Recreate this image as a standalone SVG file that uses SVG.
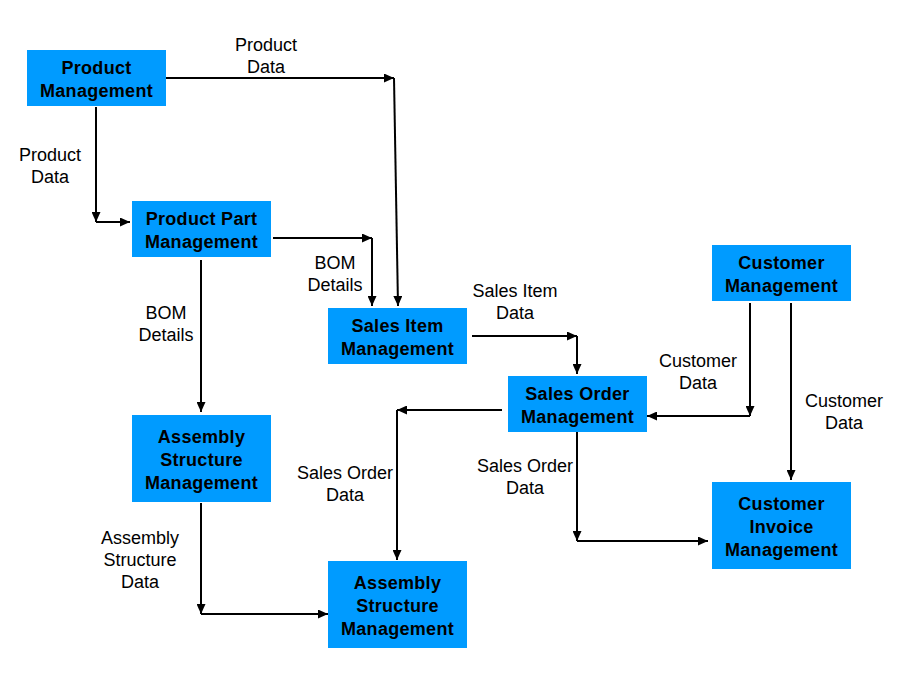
<svg xmlns="http://www.w3.org/2000/svg" width="915" height="681" viewBox="0 0 915 681">
<defs>
<style>
.box{fill:#009BFF;}
.nt{font-family:"Liberation Sans",Arial,sans-serif;font-size:18px;font-weight:bold;letter-spacing:0.3px;fill:#000;text-anchor:middle;}
.lb{font-family:"Liberation Sans",Arial,sans-serif;font-size:18px;fill:#000;text-anchor:middle;}
.c{fill:none;stroke:#000;stroke-width:2;marker-end:url(#ah);}
</style>
<marker id="ah" markerUnits="userSpaceOnUse" markerWidth="10" markerHeight="9" refX="10" refY="4.5" orient="auto" viewBox="0 0 10 9">
<path d="M0,0 L10,4.5 L0,9 z" fill="#000"/>
</marker>
</defs>
<rect width="915" height="681" fill="#fff"/>
<g id="connectors">
<path class="c" d="M166,78 H394"/>
<path class="c" d="M394,78 L398,306"/>
<path class="c" d="M96,107 V222"/>
<path class="c" d="M96,222 H130"/>
<path class="c" d="M273,238 H372"/>
<path class="c" d="M372,238 V306"/>
<path class="c" d="M201,260 V412"/>
<path class="c" d="M472,336 H577"/>
<path class="c" d="M577,336 V374"/>
<path class="c" d="M750,303 V416"/>
<path class="c" d="M750,416 H647"/>
<path class="c" d="M791,303 V480"/>
<path class="c" d="M502,410 H397"/>
<path class="c" d="M397,410 V560"/>
<path class="c" d="M577,432 V541"/>
<path class="c" d="M577,541 H708"/>
<path class="c" d="M201,503 V614"/>
<path class="c" d="M201,614 H328"/>
</g>
<g id="labels">
<text class="lb" x="266" y="51">Product</text><text class="lb" x="266" y="73">Data</text>
<text class="lb" x="50" y="161">Product</text><text class="lb" x="50" y="183">Data</text>
<text class="lb" x="335" y="269">BOM</text><text class="lb" x="335" y="291">Details</text>
<text class="lb" x="166" y="319">BOM</text><text class="lb" x="166" y="341">Details</text>
<text class="lb" x="515" y="297">Sales Item</text><text class="lb" x="515" y="319">Data</text>
<text class="lb" x="698" y="367">Customer</text><text class="lb" x="698" y="389">Data</text>
<text class="lb" x="844" y="407">Customer</text><text class="lb" x="844" y="429">Data</text>
<text class="lb" x="345" y="479">Sales Order</text><text class="lb" x="345" y="501">Data</text>
<text class="lb" x="525" y="472">Sales Order</text><text class="lb" x="525" y="494">Data</text>
<text class="lb" x="140" y="544">Assembly</text><text class="lb" x="140" y="566">Structure</text><text class="lb" x="140" y="588">Data</text>
</g>
<g id="product-management">
<rect class="box" x="27" y="50" width="139" height="56"/>
<text class="nt" x="96.5" y="74">Product</text><text class="nt" x="96.5" y="97">Management</text>
</g>
<g id="product-part-management">
<rect class="box" x="132" y="201" width="139" height="56"/>
<text class="nt" x="201.5" y="225">Product Part</text><text class="nt" x="201.5" y="248">Management</text>
</g>
<g id="sales-item-management">
<rect class="box" x="328" y="308" width="139" height="56"/>
<text class="nt" x="397.5" y="332">Sales Item</text><text class="nt" x="397.5" y="355">Management</text>
</g>
<g id="customer-management">
<rect class="box" x="712" y="245" width="139" height="56"/>
<text class="nt" x="781.5" y="269">Customer</text><text class="nt" x="781.5" y="292">Management</text>
</g>
<g id="sales-order-management">
<rect class="box" x="508" y="376" width="139" height="56"/>
<text class="nt" x="577.5" y="400">Sales Order</text><text class="nt" x="577.5" y="423">Management</text>
</g>
<g id="assembly-structure-management-1">
<rect class="box" x="132" y="415" width="139" height="87"/>
<text class="nt" x="201.5" y="443">Assembly</text><text class="nt" x="201.5" y="466">Structure</text><text class="nt" x="201.5" y="489">Management</text>
</g>
<g id="customer-invoice-management">
<rect class="box" x="712" y="482" width="139" height="87"/>
<text class="nt" x="781.5" y="510">Customer</text><text class="nt" x="781.5" y="533">Invoice</text><text class="nt" x="781.5" y="556">Management</text>
</g>
<g id="assembly-structure-management-2">
<rect class="box" x="328" y="561" width="139" height="87"/>
<text class="nt" x="397.5" y="589">Assembly</text><text class="nt" x="397.5" y="612">Structure</text><text class="nt" x="397.5" y="635">Management</text>
</g>
</svg>
